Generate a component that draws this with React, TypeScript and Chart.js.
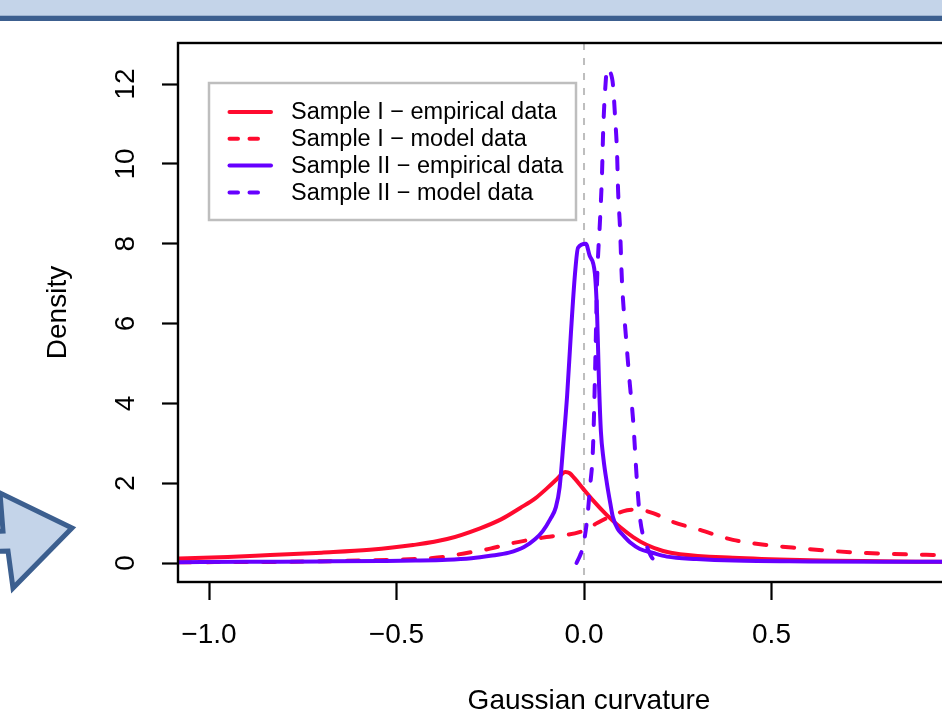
import React, { useEffect, useRef } from "react";
import { Chart, registerables } from "chart.js";

Chart.register(...registerables);

// ---- data ----
const xTicks = [-1.0, -0.5, 0.0, 0.5];
const yTicks = [0, 2, 4, 6, 8, 10, 12];
const xRange = [-1.0827, 1.1093];
const yRange = [-0.476, 13.03];

const seriesLabels = [
  "Sample I \u2212 empirical data",
  "Sample I \u2212 model data",
  "Sample II \u2212 empirical data",
  "Sample II \u2212 model data",
];

const s1EmpX = [-1.08, -0.95, -0.837, -0.7, -0.571, -0.456, -0.365, -0.277, -0.22, -0.17, -0.13, -0.099, -0.075, -0.06, -0.05, -0.038, -0.025, -0.003, 0.024, 0.061, 0.096, 0.131, 0.168, 0.211, 0.256, 0.397, 0.576, 0.93, 1.1];
const s1EmpY = [0.11, 0.15, 0.2, 0.26, 0.33, 0.45, 0.6, 0.87, 1.1, 1.38, 1.62, 1.87, 2.08, 2.22, 2.28, 2.25, 2.12, 1.87, 1.57, 1.2, 0.9, 0.65, 0.45, 0.3, 0.22, 0.13, 0.075, 0.03, 0.02];

const s1ModX = [-1.08, -0.8, -0.6, -0.45, -0.376, -0.32, -0.25, -0.19, -0.1, -0.01, 0.035, 0.077, 0.115, 0.14, 0.184, 0.237, 0.309, 0.397, 0.488, 0.576, 0.664, 0.755, 0.93, 1.1];
const s1ModY = [0.02, 0.03, 0.06, 0.1, 0.15, 0.24, 0.36, 0.5, 0.65, 0.78, 1.0, 1.2, 1.32, 1.34, 1.25, 1.03, 0.83, 0.58, 0.45, 0.37, 0.3, 0.25, 0.2, 0.17];

const s2EmpX = [-1.08, -0.9, -0.7, -0.544, -0.45, -0.365, -0.3, -0.25, -0.2, -0.16, -0.13, -0.11, -0.09, -0.075, -0.065, -0.055, -0.045, -0.035, -0.024, -0.016, 0.005, 0.015, 0.029, 0.035, 0.04, 0.045, 0.052, 0.061, 0.07, 0.077, 0.09, 0.104, 0.125, 0.149, 0.184, 0.221, 0.3, 0.4, 0.6, 0.8, 1.1];
const s2EmpY = [0.02, 0.03, 0.04, 0.05, 0.06, 0.08, 0.12, 0.18, 0.26, 0.4, 0.6, 0.8, 1.1, 1.4, 1.9, 3.0, 4.2, 5.75, 7.25, 7.9, 8.0, 7.7, 7.25, 6.2, 4.5, 3.3, 2.6, 2.0, 1.5, 1.15, 0.85, 0.7, 0.5, 0.35, 0.25, 0.16, 0.1, 0.06, 0.04, 0.03, 0.03];

const s2ModX = [-0.02, -0.01, -0.003, 0.008, 0.016, 0.024, 0.03, 0.035, 0.043, 0.048, 0.051, 0.056, 0.062, 0.07, 0.077, 0.083, 0.088, 0.091, 0.096, 0.101, 0.112, 0.122, 0.131, 0.141, 0.149, 0.16, 0.168, 0.18, 0.195];
const s2ModY = [0.0, 0.2, 0.4, 1.07, 1.9, 2.9, 5.0, 7.1, 8.65, 9.75, 10.8, 11.8, 12.4, 12.3, 12.0, 11.15, 10.3, 9.3, 8.4, 7.1, 5.65, 4.5, 3.57, 2.07, 1.15, 0.6, 0.4, 0.15, 0.02];

// ---- styles ----
const RED = "#ff0a2e";
const PURPLE = "#6600ff";
const FONT = "'Liberation Sans', Arial, Helvetica, sans-serif";
const PLOT_DASH = [12, 16];
const LEGEND_DASH = [8.5, 11.5];
const LINE_W = 4;

const pts = (xs: number[], ys: number[]) => xs.map((x, i) => ({ x, y: ys[i] }));

const decorPlugin = {
  id: "decor",
  beforeDatasetsDraw(chart: any) {
    const { ctx, chartArea, scales } = chart;
    const x0 = scales.x.getPixelForValue(0);
    ctx.save();
    ctx.strokeStyle = "#bebebe";
    ctx.lineWidth = 2;
    ctx.setLineDash([7, 8]);
    ctx.beginPath();
    ctx.moveTo(x0, chartArea.top);
    ctx.lineTo(x0, chartArea.bottom);
    ctx.stroke();
    ctx.restore();
  },
  afterDatasetsDraw(chart: any) {
    const { ctx, chartArea } = chart;
    ctx.save();
    // plot box
    ctx.strokeStyle = "#000";
    ctx.lineWidth = 2.4;
    ctx.setLineDash([]);
    ctx.strokeRect(chartArea.left, chartArea.top, chartArea.right - chartArea.left, chartArea.bottom - chartArea.top);

    // legend
    const lx = chartArea.left + 31;
    const ly = chartArea.top + 40;
    const lw = 367;
    const lh = 137;
    ctx.strokeStyle = "#bebebe";
    ctx.lineWidth = 2.5;
    ctx.strokeRect(lx, ly, lw, lh);
    const rowH = 26.8;
    const firstRow = ly + 29;
    ctx.font = `23.5px ${FONT}`;
    ctx.textBaseline = "middle";
    ctx.textAlign = "left";
    [0, 1, 2, 3].forEach((i) => {
      const ds = chart.data.datasets[i];
      const y = firstRow + rowH * i;
      ctx.save();
      ctx.strokeStyle = ds.borderColor;
      ctx.lineWidth = ds.borderWidth;
      ctx.lineCap = "round";
      const dashed = ds.borderDash && ds.borderDash.length;
      ctx.setLineDash(dashed ? LEGEND_DASH : []);
      ctx.beginPath();
      ctx.moveTo(lx + 20.5, y);
      ctx.lineTo(lx + (dashed ? 60 : 62), y);
      ctx.stroke();
      ctx.restore();
      ctx.fillStyle = "#000";
      ctx.fillText(ds.label, lx + 82, y + 1);
    });
    ctx.restore();
  },
};

export default function App() {
  const ref = useRef<HTMLCanvasElement | null>(null);

  useEffect(() => {
    if (!ref.current) return;
    Chart.defaults.font.family = FONT;
    const chart = new Chart(ref.current, {
      type: "line",
      data: {
        datasets: [
          { label: seriesLabels[0], data: pts(s1EmpX, s1EmpY), borderColor: RED, borderWidth: LINE_W, borderDash: [], order: 3 },
          { label: seriesLabels[1], data: pts(s1ModX, s1ModY), borderColor: RED, borderWidth: LINE_W, borderDash: PLOT_DASH, order: 2 },
          { label: seriesLabels[2], data: pts(s2EmpX, s2EmpY), borderColor: PURPLE, borderWidth: LINE_W, borderDash: [], order: 1 },
          { label: seriesLabels[3], data: pts(s2ModX, s2ModY), borderColor: PURPLE, borderWidth: LINE_W, borderDash: PLOT_DASH, order: 0 },
        ].map((d) => ({
          ...d,
          pointRadius: 0,
          fill: false,
          cubicInterpolationMode: "monotone" as const,
          borderCapStyle: "round" as const,
          borderJoinStyle: "round" as const,
        })),
      },
      options: {
        responsive: false,
        animation: false,
        devicePixelRatio: 1,
        layout: { padding: { top: 43, left: 0, right: 10, bottom: 0 } },
        plugins: { legend: { display: false }, tooltip: { enabled: false } },
        events: [],
        scales: {
          x: {
            type: "linear",
            min: xRange[0],
            max: xRange[1],
            afterBuildTicks: (s: any) => {
              s.ticks = xTicks.map((v) => ({ value: v }));
            },
            afterFit: (s: any) => {
              s.height = 158;
            },
            border: { display: false },
            grid: { drawOnChartArea: false, drawTicks: true, tickLength: 18, tickColor: "#000", tickWidth: 2.2, color: "#000" },
            ticks: {
              color: "#000",
              font: { size: 28, family: FONT },
              padding: 18,
              maxRotation: 0,
              callback: (v: any) => (Number(v) < 0 ? "\u2212" : "") + Math.abs(Number(v)).toFixed(1),
            },
            title: {
              display: true,
              text: "Gaussian curvature",
              color: "#000",
              font: { size: 28, family: FONT },
              padding: { top: 0, bottom: 22 },
            },
          },
          y: {
            type: "linear",
            min: yRange[0],
            max: yRange[1],
            afterBuildTicks: (s: any) => {
              s.ticks = yTicks.map((v) => ({ value: v }));
            },
            afterFit: (s: any) => {
              s.width = 178;
            },
            border: { display: false },
            grid: { drawOnChartArea: false, drawTicks: true, tickLength: 16, tickColor: "#000", tickWidth: 2.2, color: "#000" },
            ticks: {
              color: "#000",
              font: { size: 28, family: FONT },
              padding: 20,
              minRotation: 90,
              maxRotation: 90,
              crossAlign: "center",
              callback: (v: any) => String(v),
            },
            title: {
              display: true,
              text: "Density",
              color: "#000",
              font: { size: 28, family: FONT },
              padding: { top: 41, bottom: 0 },
            },
          },
        },
      },
      plugins: [decorPlugin],
    });
    return () => chart.destroy();
  }, []);

  return (
    <div style={{ position: "fixed", left: 0, top: 0, width: 942, height: 709, overflow: "hidden", background: "#fff" }}>
      <canvas ref={ref} width={1010} height={740} style={{ position: "absolute", left: 0, top: 0, width: 1010, height: 740 }} />
      <div style={{ position: "absolute", left: 0, top: 0, width: 942, height: 15, background: "#c4d4e9" }} />
      <div style={{ position: "absolute", left: 0, top: 15, width: 942, height: 1, background: "#9fb4d0" }} />
      <div style={{ position: "absolute", left: 0, top: 16, width: 942, height: 5, background: "#3c5f8f" }} />
      <svg width={942} height={709} style={{ position: "absolute", left: 0, top: 0, pointerEvents: "none" }}>
        <polygon
          points="-40,533 3,531 0,493 72,528 13,588 8,551 -40,553"
          fill="#c4d4e9"
          stroke="#3c5f8f"
          strokeWidth={5}
          strokeLinejoin="miter"
        />
      </svg>
    </div>
  );
}
